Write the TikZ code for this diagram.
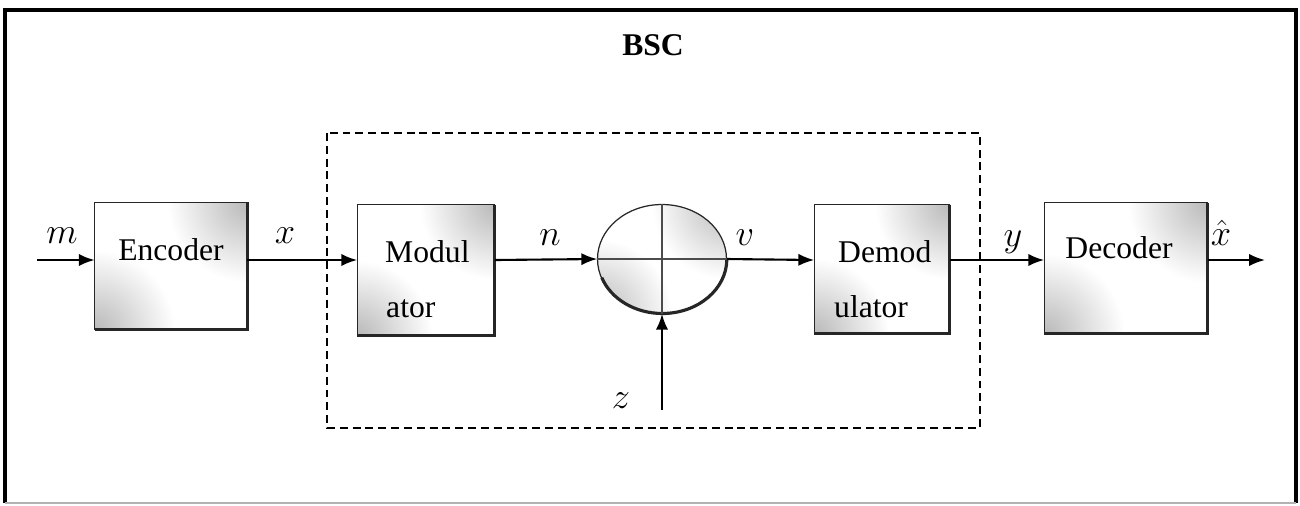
\documentclass[tikz,border=0pt]{standalone}
\usepackage{fontspec}
\setmainfont{Liberation Serif}
\usepackage{tikz}
\usetikzlibrary{shapes,arrows.meta}

% grey corner shading and shadowed frame of a block
\newcommand{\cornershade}[2]{%
  \begin{scope}
    \clip (#1.south west) rectangle (#1.north east);
    \shade[inner color=gray!55, outer color=white] (#1.north east) circle (#2);
    \shade[inner color=gray!55, outer color=white] (#1.south west) circle (#2);
  \end{scope}
  \draw[black!85, line width=0.6pt] (#1.south west) rectangle (#1.north east);
  \draw[black!85, line width=1.6pt] (#1.north east) -- (#1.south east) -- (#1.south west);}

\tikzset{
  block/.style = {minimum width=#1, inner sep=0pt},
  sig/.style   = {line width=1.2pt, -{Latex[length=9pt,width=7pt]}},
  var/.style   = {anchor=base, inner sep=1pt, font=\fontsize{20}{22}\selectfont},
}

\begin{document}
\begin{tikzpicture}[x=0.02cm, y=-0.02cm,
every node/.style = {font=\fontsize{18}{20}\selectfont}]
\useasboundingbox (0,0) rectangle (1300,505);

% outer frame
\draw[line width=0.08cm] (5,503) -- (5,10) -- (1296,10) -- (1296,503);
\draw[gray!60, line width=0.6pt] (5,503) -- (1296,503);
\node[font=\fontsize{18}{20}\selectfont\bfseries, anchor=base] (bsc) at (653,55) {BSC};

% channel
\draw[dashed, line width=1.1pt, dash pattern=on 4.5pt off 2.8pt] (327,133) rectangle (980,428);

\coordinate (sigrow) at (0,260);
\coordinate (in)  at (37,260);
\coordinate (out) at (1265,260);
\coordinate (zin) at (662,410);

% blocks
\node[block=3.04cm, minimum height=2.54cm] (enc) at (171,266) {};
\node[block=2.74cm, minimum height=2.6cm]  (mod) at (426,270) {};
\node[block=2.7cm,  minimum height=2.56cm] (dem) at (882,269) {};
\node[block=3.26cm, minimum height=2.6cm]  (dec) at (1126,268) {};
\cornershade{enc}{1.6cm}
\cornershade{mod}{1.5cm}
\cornershade{dem}{1.5cm}
\cornershade{dec}{1.6cm}

% adder
\node[ellipse, minimum width=2.58cm, minimum height=2.18cm, inner sep=0pt] (sum) at (662,259) {};
\begin{scope}
  \clip (sum.center) ellipse (1.29cm and 1.09cm);
  \shade[inner color=gray!55, outer color=white] (sum.north -| sum.east) circle (1.5cm);
  \shade[inner color=gray!55, outer color=white] (sum.south -| sum.west) circle (1.5cm);
\end{scope}
\draw[black!85, line width=0.7pt] (sum.center) ellipse (1.29cm and 1.09cm);
\draw[black!85, line width=1.8pt] (sum.east) arc (0:-160:1.29cm and 1.09cm);
\draw[black!70, line width=0.6pt] (sum.north) -- (sum.south) (sum.west) -- (sum.east);

% block texts
\node[anchor=base] (enctxt) at (enc.center |- sigrow) {Encoder};
\node[anchor=base west] (modtxta) at (379,262) {Modul};
\node[anchor=base west] (modtxtb) at (380,317) {ator};
\node[anchor=base west] (demtxta) at (832,262) {Demod};
\node[anchor=base west] (demtxtb) at (828,317) {ulator};
\node[anchor=base] (dectxt) at (1119,258) {Decoder};

% signals
\draw[sig] (in) -- (enc.west |- sigrow);
\draw[sig] (enc.east |- sigrow) -- (mod.west |- sigrow);
\draw[sig] (mod.east |- sigrow) -- (sum.west);
\draw[sig] (sum.east) -- (dem.west |- sigrow);
\draw[sig] (dem.east |- sigrow) -- (dec.west |- sigrow);
\draw[sig] (dec.east |- sigrow) -- (out);
\draw[sig] (zin) -- (sum.south);

\node[var] (lm) at (62,243) {$m$};
\node[var] (lx) at (285,243) {$x$};
\node[var] (ln) at (550,245) {$n$};
\node[var] (lv) at (745,245) {$v$};
\node[var] (ly) at (1013,246) {$y$};
\node[var] (lxh) at (1221,245) {$\hat{x}$};
\node[var] (lz) at (621,408) {$z$};
\end{tikzpicture}
\end{document}
